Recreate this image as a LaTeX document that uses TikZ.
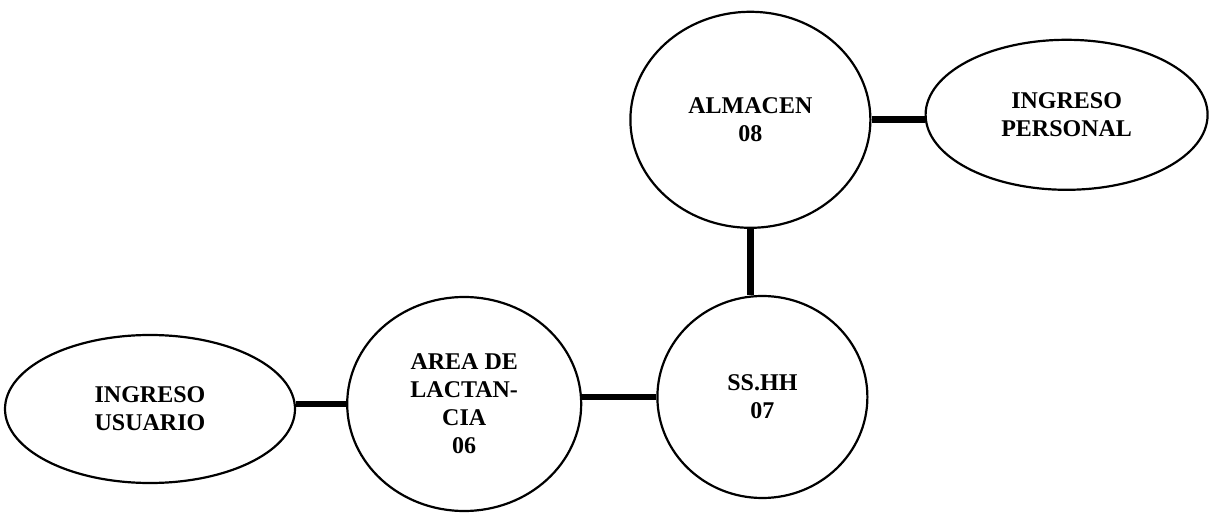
\documentclass[tikz,border=0pt]{standalone}
\usepackage{fontspec}
\setmainfont{Liberation Serif}
\usetikzlibrary{positioning, shapes.geometric}
\tikzset{
  pl-room/.style={
    ellipse, draw=black, line width=1.1pt, fill=white, inner sep=0pt,
    align=center, font=\bfseries\fontsize{12}{14}\selectfont
  },
  pl-link/.style={line width=3.4pt, draw=black},
}

\begin{document}
\begin{tikzpicture}[node distance=25pt and 25pt]
  \useasboundingbox (0,0) rectangle (605.5pt,-256.5pt);
  \node[pl-room, minimum width=145pt, minimum height=74pt] (usuario) at (75pt,-204.5pt) {INGRESO\\USUARIO};
  \node[pl-room, right=25pt of usuario, yshift=2.5pt, minimum width=117pt, minimum height=107pt] (lactancia) {AREA DE\\LACTAN-\\CIA\\06};
  \node[pl-room, right=37pt of lactancia, yshift=3.5pt, minimum width=105pt, minimum height=101pt] (sshh) {SS.HH\\07};
  \node[pl-room, above=33pt of sshh, xshift=-6pt, minimum width=120pt, minimum height=108pt] (almacen) {ALMACEN\\08};
  \node[pl-room, right=26.5pt of almacen, yshift=2.5pt, minimum width=141pt, minimum height=75pt] (personal) {INGRESO\\PERSONAL};

  \draw[pl-link] (lactancia.west) -- (lactancia.west -| usuario.east);
  \draw[pl-link] (sshh.west) -- (sshh.west -| lactancia.east);
  \draw[pl-link] (almacen.south) -- (almacen.south |- sshh.north);
  \draw[pl-link] (almacen.east) -- (almacen.east -| personal.west);
\end{tikzpicture}
\end{document}
